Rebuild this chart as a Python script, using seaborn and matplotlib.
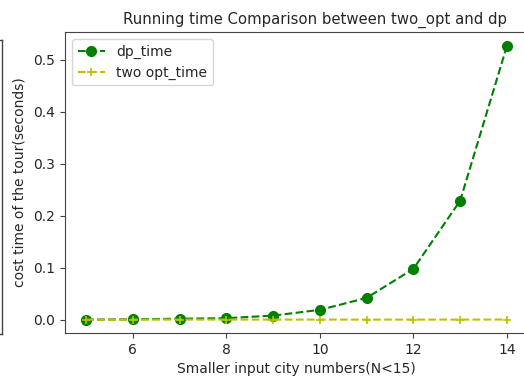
import matplotlib
matplotlib.use("Agg")
import matplotlib.pyplot as plt
from matplotlib.lines import Line2D
import seaborn as sns
import pandas as pd

city_numbers = [5, 6, 7, 8, 9, 10, 11, 12, 13, 14]
dp_time = [0.0003, 0.0008, 0.002, 0.003, 0.008, 0.019, 0.042, 0.098, 0.229, 0.527]
two_opt_time = [0.0002, 0.0002, 0.0003, 0.0003, 0.0003, 0.0003, 0.0003, 0.0003, 0.0003, 0.0004]

df = pd.DataFrame({"n": city_numbers, "dp": dp_time, "two": two_opt_time})

W, H = 524, 380
TXT = "#262626"
fig = plt.figure(figsize=(W / 100, H / 100), dpi=100)
L, R, T, B = 65, 528, 32, 333
ax = fig.add_axes([L / W, (H - B) / H, (R - L) / W, (B - T) / H])

sns.lineplot(data=df, x="n", y="dp", ax=ax, color="g", linestyle="--", marker="o",
             markersize=7, markeredgecolor="g", markeredgewidth=1, label="dp_time")
sns.lineplot(data=df, x="n", y="two", ax=ax, color="y", linestyle="--", marker="+",
             markersize=6, markeredgecolor="y", markeredgewidth=1.2, label="two opt_time")

ax.set_title("Running time Comparison between two_opt and dp", fontsize=10.7,
             color=TXT, x=(315 - L) / (R - L))
ax.set_xlabel("Smaller input city numbers(N<15)", fontsize=10, color=TXT)
ax.set_ylabel("cost time of the tour(seconds)", fontsize=10, color=TXT, labelpad=5)
ax.tick_params(labelsize=10, labelcolor=TXT, color="#444444")
for s in ax.spines.values():
    s.set_color("#444444")
ax.set_xticks([6, 8, 10, 12, 14])
ax.set_yticks([0.0, 0.1, 0.2, 0.3, 0.4, 0.5])
ax.set_xlim(4.55, 14.45)
ax.set_ylim(-0.0255, 0.5535)
leg = ax.legend(loc="upper left", fontsize=10)
for t in leg.get_texts():
    t.set_color(TXT)

# partial frame of a neighbouring figure at the left edge
x0 = 2 / W
fig.add_artist(Line2D([x0, x0], [1 - 40 / H, 1 - 334 / H], color="#444444", lw=1))
fig.add_artist(Line2D([0, x0], [1 - 40 / H, 1 - 40 / H], color="#444444", lw=1))
fig.add_artist(Line2D([0, x0], [1 - 334 / H, 1 - 334 / H], color="#444444", lw=1))

fig.savefig("out.png", dpi=100)
